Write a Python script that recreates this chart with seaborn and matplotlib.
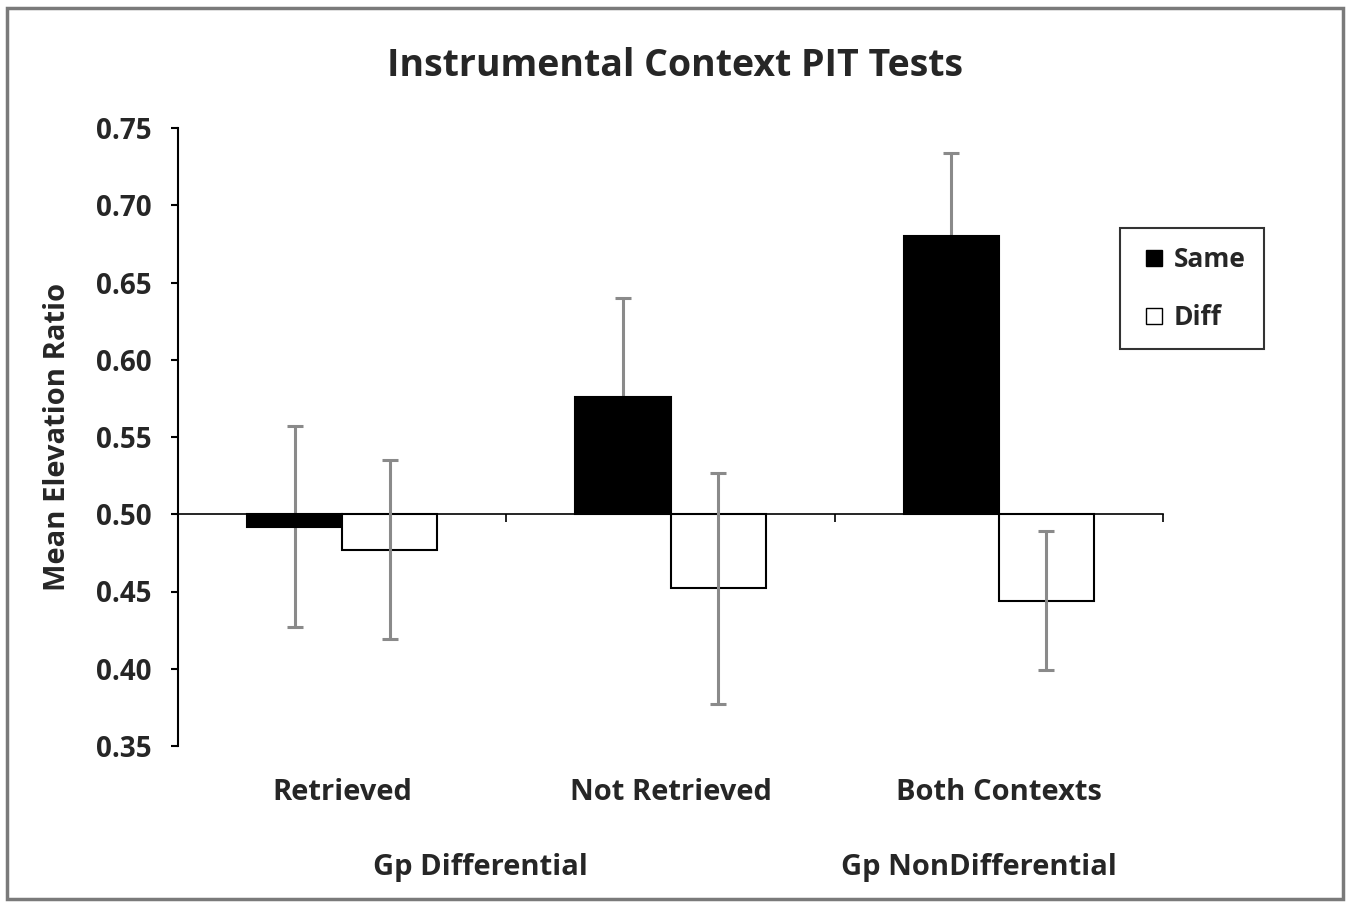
import matplotlib
matplotlib.use("Agg")
import matplotlib.pyplot as plt
from matplotlib.lines import Line2D
from matplotlib.patches import Rectangle
from matplotlib.ticker import FormatStrFormatter
import pandas as pd
import seaborn as sns

# Data
contexts = ["Retrieved", "Not Retrieved", "Both Contexts"]
conditions = ["Same", "Diff"]
groups = ["Gp Differential", "Gp NonDifferential"]
group_centers = [0.42, 1.94]   # category units, where the group labels sit

same_means = [0.492, 0.576, 0.680]
diff_means = [0.477, 0.452, 0.444]
same_err = [0.065, 0.064, 0.054]
diff_err = [0.058, 0.075, 0.045]

baseline = 0.50
y_ticks = [0.35, 0.40, 0.45, 0.50, 0.55, 0.60, 0.65, 0.70, 0.75]

df = pd.DataFrame({
    "context": contexts * 2,
    "cond": ["Same"] * 3 + ["Diff"] * 3,
    "ratio": same_means + diff_means,
})
df["dev"] = df["ratio"] - baseline

sns.set_theme(style="white")
plt.rcParams["font.family"] = ["Open Sans", "DejaVu Sans"]
plt.rcParams["font.weight"] = "bold"

fig = plt.figure(figsize=(13.5, 9.02), dpi=100)
ax = fig.add_axes([178 / 1350, 1 - 746 / 902, 985 / 1350, 618 / 902])

sns.barplot(data=df, x="context", y="dev", hue="cond", order=contexts,
            hue_order=conditions, palette={"Same": "black", "Diff": "white"},
            edgecolor="black", linewidth=1.5, width=0.58, errorbar=None,
            legend=False, bottom=baseline, zorder=2, ax=ax)

# error bars (Same ones sit behind the black bars)
for container, means, errs, z in zip(ax.containers, [same_means, diff_means],
                                     [same_err, diff_err], [1.5, 3]):
    xs = [p.get_x() + p.get_width() / 2 for p in container]
    ax.errorbar(xs, means, yerr=errs, fmt="none", ecolor="#8a8a8a",
                elinewidth=2.2, capsize=5.5, capthick=2.2, zorder=z)

ax.set_xlim(-0.5, 2.5)
ax.set_ylim(0.35, 0.75)
ax.set_yticks(y_ticks)
ax.yaxis.set_major_formatter(FormatStrFormatter("%.2f"))

for s in ["top", "right"]:
    ax.spines[s].set_visible(False)
ax.spines["left"].set_color("black")
ax.spines["left"].set_linewidth(1.5)
ax.spines["bottom"].set_color("black")
ax.spines["bottom"].set_linewidth(1.2)
ax.spines["bottom"].set_position(("data", baseline))

ax.set_xticks(range(len(contexts)))
ax.set_xticks([0.5, 1.5, 2.5], minor=True)
ax.tick_params(axis="x", which="major", length=0, pad=190, labelsize=21)
ax.tick_params(axis="x", which="minor", length=6, width=1.2, color="black",
               direction="out", bottom=True)
ax.tick_params(axis="y", length=5, width=1.5, color="black", direction="out",
               left=True, labelsize=20, pad=14)
ax.set_xlabel("")
ax.set_ylabel("Mean Elevation Ratio", fontsize=21, fontweight="bold")
ax.yaxis.set_label_coords(-0.108, 0.5)

for lab in ax.get_xticklabels() + ax.get_yticklabels():
    lab.set_fontweight("bold")

# group labels below the categories
for name, cx in zip(groups, group_centers):
    ax.text(cx, -0.197, name, transform=ax.get_xaxis_transform(),
            ha="center", va="center", fontsize=21, fontweight="bold")

fig.text(0.5, 1 - 66 / 902, "Instrumental Context PIT Tests", ha="center",
         va="center", fontsize=27, fontweight="bold")

handles = [
    Line2D([], [], marker="s", linestyle="none", markersize=12,
           markerfacecolor="black", markeredgecolor="black"),
    Line2D([], [], marker="s", linestyle="none", markersize=12,
           markerfacecolor="white", markeredgecolor="black"),
]
leg = fig.legend(handles, conditions, loc="upper left",
                 bbox_to_anchor=(1120 / 1350, 1 - 228 / 902), borderaxespad=0,
                 frameon=True, fancybox=False, edgecolor="black", fontsize=19,
                 handlelength=1.2, handletextpad=0.15, labelspacing=1.15,
                 borderpad=0.7)
leg.get_frame().set_linewidth(1.5)
for t in leg.get_texts():
    t.set_fontweight("bold")

# outer chart-area border
fig.patches.append(Rectangle((7 / 1350, 3 / 902), 1336 / 1350, 891 / 902,
                             transform=fig.transFigure, fill=False,
                             edgecolor="#7a7a7a", linewidth=2.5))

fig.savefig("out.png", dpi=100)
